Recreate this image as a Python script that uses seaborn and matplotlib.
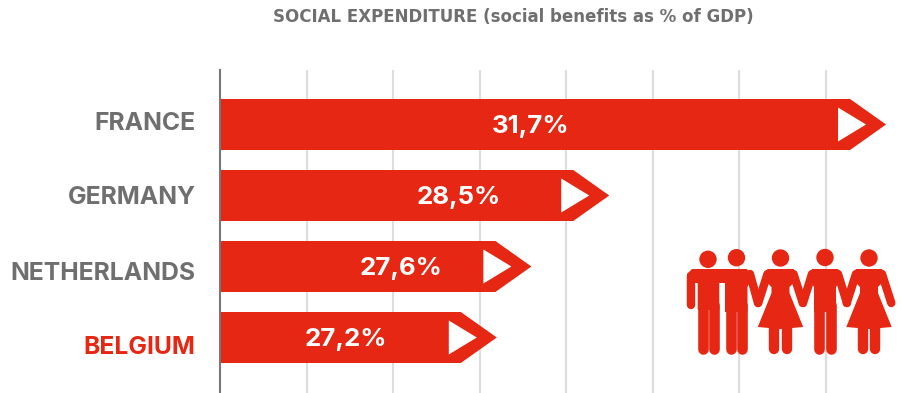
import matplotlib
matplotlib.use("Agg")
import matplotlib.pyplot as plt
import pandas as pd
import seaborn as sns
from matplotlib.patches import Circle, Polygon
from matplotlib.lines import Line2D
from matplotlib.transforms import Affine2D

countries = ["FRANCE", "GERMANY", "NETHERLANDS", "BELGIUM"]
benefits = [31.7, 28.5, 27.6, 27.2]
value_labels = ["31,7%", "28,5%", "27,6%", "27,2%"]
grid_values = [25, 26, 27, 28, 29, 30, 31]

RED = "#E52713"
GREY = "#6F6F6F"
W, H = 902, 393
UNIT = 86.5  # pixels per percentage point

sns.set_theme(style="white")
plt.rcParams["font.family"] = ["Inter", "DejaVu Sans"]

fig = plt.figure(figsize=(W / 100, H / 100), dpi=100, facecolor="white")
ax = fig.add_axes([220 / W, 0, (W - 220) / W, (H - 70) / H])

df = pd.DataFrame({"country": countries, "benefits": benefits})
sns.barplot(data=df, x="benefits", y="country", color=RED, saturation=1,
            width=51 / 71, ax=ax, zorder=3, linewidth=0)

ax.set_xlim(24, 24 + (W - 220) / UNIT)
ax.set_ylim((393 - 124.5) / 71, -(124.5 - 70) / 71)
ax.set_xlabel("")
ax.set_ylabel("")
ax.set_xticks(grid_values)
ax.set_xticklabels([])
ax.tick_params(axis="x", length=0)
ax.tick_params(axis="y", length=0, pad=17.5)
for v in grid_values:
    ax.axvline(v, color="#DDDDDD", lw=1.5, zorder=1)

for s in ("top", "right", "bottom"):
    ax.spines[s].set_visible(False)
ax.spines["left"].set_color("#777777")
ax.spines["left"].set_linewidth(1.5)
ax.spines["left"].set_zorder(5)

# Country names sit on a slightly wider pitch than the bars.
name_shift = [0.5, -2.5, -6.5, -10.5]
for lab, name, dy in zip(ax.get_yticklabels(), countries, name_shift):
    lab.set_fontsize(17.8)
    lab.set_fontweight("bold")
    lab.set_color(RED if name == "BELGIUM" else GREY)
    lab.set_verticalalignment("center")
    lab.set_transform(lab.get_transform() + Affine2D().translate(0, dy))

# Arrow outline for each bar: the head spans the last 36 px of the value,
# with a white triangle set inside it.
HEAD = 36 / UNIT
label_centres = [27.595, 26.763, 26.095, 25.457]
for bar, val, text, cx in zip(ax.patches, benefits, value_labels, label_centres):
    top, bottom = bar.get_y(), bar.get_y() + bar.get_height()
    mid = (top + bottom) / 2
    start = 23.0
    arrow = Polygon([(start, top), (val - HEAD, top), (val, mid),
                     (val - HEAD, bottom), (start, bottom)],
                    closed=True, transform=ax.transData)
    bar.set_clip_path(arrow)
    half = 17 / 71
    ax.add_patch(Polygon([(val - 48 / UNIT, mid - half), (val - 20 / UNIT, mid),
                          (val - 48 / UNIT, mid + half)],
                         closed=True, fc="white", ec="none", zorder=4))
    ax.text(cx, mid + 2 / 71, text, color="white", fontsize=18.6, fontweight="bold",
            ha="center", va="center", zorder=6)

fig.text(513.5 / W, 1 - 17 / H, "SOCIAL EXPENDITURE (social benefits as % of GDP)",
         color=GREY, fontsize=12, fontweight="bold", ha="center", va="center",
         family="DejaVu Sans")

# Pictogram of five people holding hands, laid out in pixel units from the top-left corner.
px = Affine2D().scale(1, -1).translate(0, H)


def limb(xs, ys, w):
    fig.add_artist(Line2D(xs, ys, color=RED, lw=w * 0.72, solid_capstyle="round",
                          transform=px, zorder=10))


def fill(points):
    fig.add_artist(Polygon(points, closed=True, fc=RED, ec="none", transform=px, zorder=10))


def head(x, y):
    fig.add_artist(Circle((x, y), 8.7, fc=RED, ec="none", transform=px, zorder=10))


def man(cx):
    head(cx, 257.5)
    fill([(cx - 13, 269), (cx + 13, 269), (cx + 17, 279), (cx + 11, 287),
          (cx + 11, 312), (cx - 11, 312), (cx - 11, 287), (cx - 17, 279)])
    limb([cx - 5.6, cx - 5.6], [305, 349], 10.6)
    limb([cx + 5.6, cx + 5.6], [305, 349], 10.6)
    limb([cx - 13, cx - 22], [274, 303], 8.4)
    limb([cx + 13, cx + 22], [274, 303], 8.4)


def woman(cx):
    head(cx, 258)
    fill([(cx - 13, 269), (cx + 13, 269), (cx + 17, 279), (cx + 9, 287), (cx + 9, 293),
          (cx + 22.7, 327), (cx, 329), (cx - 22.7, 327), (cx - 9, 293), (cx - 9, 287),
          (cx - 17, 279)])
    limb([cx - 6.2, cx - 6.2], [322, 349], 10.4)
    limb([cx + 6.2, cx + 6.2], [322, 349], 10.4)
    limb([cx - 13, cx - 22.3], [274, 303], 8.4)
    limb([cx + 13, cx + 22.3], [274, 303], 8.4)


# The first two men stand shoulder to shoulder, joined by one long yoke.
head(708, 259.3)
head(736.5, 257.7)
fill([(692, 269), (747, 269), (752, 279), (747.5, 287), (747.5, 312), (725, 312),
      (725, 283), (719.3, 283), (719.3, 310), (697.7, 310), (697.7, 283), (687, 283), (687, 274)])
limb([702.9, 702.9], [305, 349], 10.6)
limb([714, 714], [305, 349], 10.6)
limb([731, 731], [305, 349], 10.6)
limb([742.3, 742.3], [305, 349], 10.6)
limb([691, 691], [276, 305], 8.4)
limb([750, 758], [274, 303], 8.4)

woman(780.5)
man(825)
woman(869)

fig.savefig("out.png", dpi=100, facecolor="white")
